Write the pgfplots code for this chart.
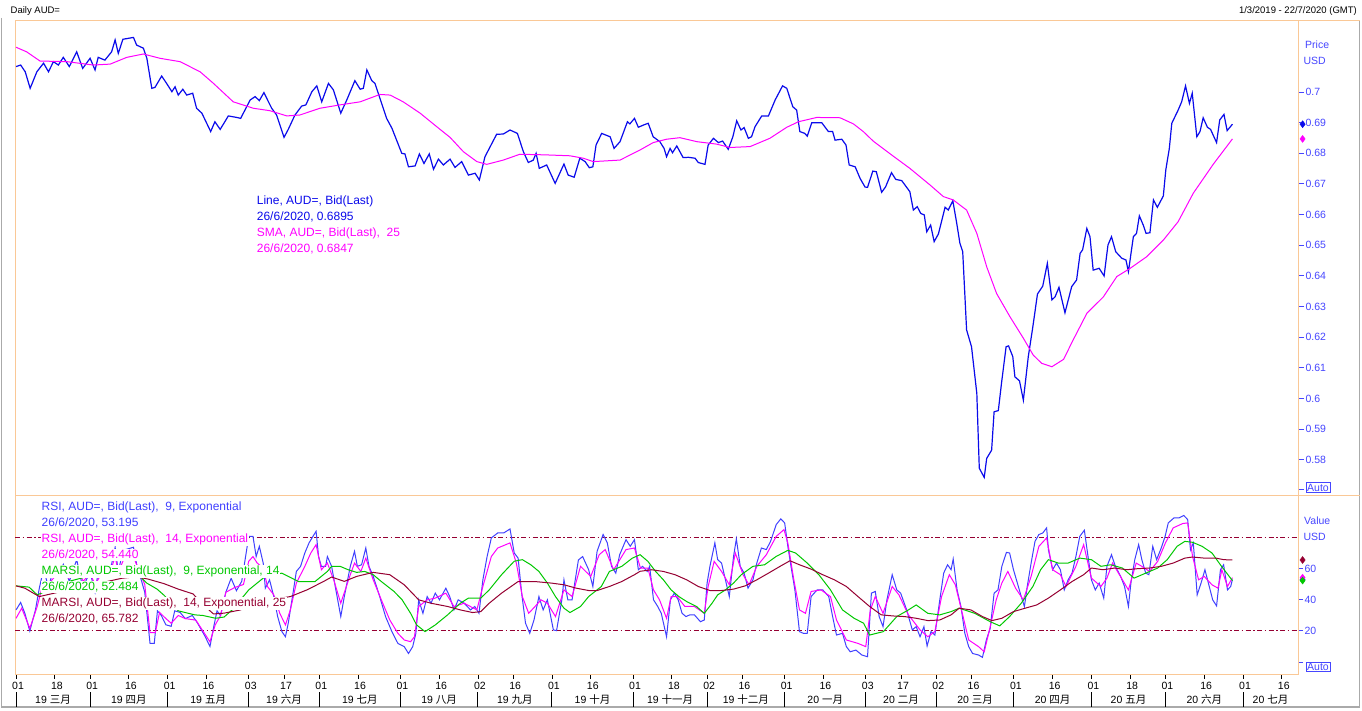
\documentclass[border=0pt]{standalone}
\usepackage{pgfplots}
\pgfplotsset{compat=1.18}
\usepackage{fontspec}
\setmainfont{Liberation Sans}
\newfontfamily\cjk{Noto Sans CJK SC}
\definecolor{peach}{RGB}{250,200,150}
\definecolor{tickblue}{RGB}{70,70,255}
\definecolor{priceblue}{RGB}{10,10,235}
\definecolor{smamag}{RGB}{255,0,255}
\definecolor{rsiblue}{RGB}{64,64,255}
\definecolor{marsigreen}{RGB}{0,200,0}
\definecolor{maroonc}{RGB}{150,0,50}
\definecolor{framegray}{RGB}{170,170,170}
\begin{document}
\begin{tikzpicture}[x=1pt,y=1pt]
\fill[white] (0,0) rectangle (1362,710);
% frame
\draw[framegray,line width=1.5pt] (1.5,692) -- (1.5,3) -- (1359.5,3) -- (1359.5,690);
\begin{axis}[
  at={(15pt,215pt)}, anchor=south west, scale only axis,
  width=1283pt, height=474pt,
  xmin=-0.3, xmax=363.6, ymin=0.56856, ymax=0.72316,
  axis line style={peach, line width=1pt},
  xtick=\empty,
  ytick={0.5705,0.58,0.59,0.6,0.61,0.62,0.63,0.64,0.65,0.66,0.67,0.68,0.69,0.7},
  yticklabels={,0.58,0.59,0.6,0.61,0.62,0.63,0.64,0.65,0.66,0.67,0.68,0.69,0.7},
  ytick pos=right, yticklabel pos=right, tick align=outside, major tick length=6pt,
  y tick style={tickblue, line width=1pt},
  yticklabel style={font=\fontsize{10.5}{12}\selectfont, text=tickblue, xshift=-2pt},
  clip=false,
]
\addplot[priceblue, line width=1.2pt] table {
x y
0 0.7083
1.3 0.7088
2.6 0.7066
4 0.7012
5.9 0.7066
7.8 0.7094
9.2 0.7066
10.6 0.7099
12 0.7088
13.4 0.7113
15.1 0.7083
17.2 0.7131
18.9 0.7077
21 0.7110
22.4 0.7072
23.3 0.7113
25.2 0.7104
27.1 0.7131
28.1 0.7170
29 0.7126
30.3 0.7172
33.3 0.7178
34.2 0.7153
36.1 0.7143
37.1 0.7110
38.5 0.7012
39.4 0.7015
41.3 0.7052
42.7 0.7028
44.2 0.7001
45.1 0.7017
46 0.6990
47.3 0.7009
48.4 0.6990
50.1 0.6996
51.2 0.6947
52.7 0.6931
55.2 0.6871
56.4 0.6903
57.9 0.6878
60.2 0.6922
62.6 0.6917
63.7 0.6914
66.4 0.6974
67.8 0.6985
69 0.6972
70.3 0.6998
72.5 0.6947
73.9 0.6925
76 0.6852
77.2 0.6878
79.1 0.6925
81 0.6954
82.2 0.6958
83.9 0.7001
85.3 0.7020
86.7 0.6968
88.6 0.7028
90 0.7007
92.1 0.6931
93.8 0.6974
96.1 0.7037
97.6 0.7009
98.5 0.7012
99.5 0.7072
100.9 0.7037
101.8 0.7028
105.1 0.6914
106.6 0.6882
109.4 0.6800
110.3 0.6798
111.3 0.6756
113.2 0.6759
114.4 0.6798
115.7 0.6767
117.2 0.6798
118.4 0.6748
119.8 0.6781
121.2 0.6762
123.1 0.6781
124.5 0.6754
126.4 0.6773
128.3 0.6729
130.2 0.6735
131.4 0.6713
133 0.6789
136.3 0.6862
138.2 0.6863
140.1 0.6876
142.2 0.6865
143.9 0.6805
145.3 0.6770
146.7 0.6778
147.5 0.6800
148.4 0.6751
150.5 0.6762
152.9 0.6702
155.4 0.6765
156.6 0.6729
158.3 0.6722
159.9 0.6784
161.4 0.6773
162.6 0.6753
163.6 0.6756
164.5 0.6827
166.1 0.6865
168.5 0.6854
169.6 0.6816
171.3 0.6838
173.4 0.6903
174.1 0.6896
175.4 0.6914
176.5 0.6885
177.9 0.6892
179.3 0.6898
180.7 0.6854
182.6 0.6838
183.8 0.6816
184.5 0.6789
185.5 0.6816
186.2 0.6802
187.4 0.6824
189.2 0.6786
190.7 0.6787
192.6 0.6784
193.5 0.6770
195.4 0.6764
196.3 0.6827
197.8 0.6849
199.2 0.6835
200.4 0.6840
202 0.6813
203.3 0.6854
204.4 0.6906
205.6 0.6876
206.5 0.6884
207.7 0.6849
208.6 0.6854
209.6 0.6887
211.5 0.6922
213.4 0.6922
215.3 0.6974
217.4 0.7020
218.6 0.7012
220.3 0.6952
221.4 0.6941
222.3 0.6871
223.7 0.6865
224.4 0.6856
225.7 0.6900
228.5 0.6900
230.4 0.6871
231.6 0.6871
232.3 0.6843
234.2 0.6846
235.4 0.6827
236.3 0.6762
238 0.6756
239.4 0.6718
240.8 0.6690
241.5 0.6689
243 0.6742
244 0.6740
245.5 0.6673
246.6 0.6690
248.3 0.6737
249.5 0.6715
251.2 0.6711
253.5 0.6675
254.5 0.6615
255.6 0.6626
256.6 0.6604
257.6 0.6599
258.3 0.6544
259.4 0.6566
260.4 0.6512
261.6 0.6537
263.5 0.6624
264.4 0.6615
265.7 0.6645
266.8 0.6572
267.7 0.6507
268.5 0.6479
269.6 0.6224
271 0.6169
272.5 0.6017
273.2 0.5773
274.6 0.5743
275.3 0.5805
276.7 0.5832
277.4 0.5957
278.6 0.5961
279.5 0.6050
280.8 0.6169
281.5 0.6172
282.7 0.6137
283.3 0.6071
284.6 0.6058
285.7 0.5995
287.1 0.6137
288.4 0.6235
289.7 0.6341
291.2 0.6367
292.5 0.6441
293.8 0.6322
294.7 0.6332
295.8 0.6363
297.5 0.6280
299.4 0.6365
300.8 0.6387
301.8 0.6474
302.5 0.6485
303.7 0.6555
304.6 0.6528
305.5 0.6419
307.2 0.6425
308.6 0.6400
309.7 0.6501
310.7 0.6528
311.9 0.6479
313.6 0.6458
314.8 0.6452
315.5 0.6414
316.9 0.6528
317.8 0.6539
318.6 0.6596
319.7 0.6566
320.5 0.6539
321.6 0.6541
322.6 0.6648
323.7 0.6624
325.4 0.6661
326.1 0.6746
327.1 0.6816
327.8 0.6898
329.6 0.6941
330.6 0.6968
331.7 0.7020
332.8 0.6963
333.6 0.6996
334.9 0.6854
335.8 0.6871
336.7 0.6916
337.9 0.6885
338.8 0.6878
340.5 0.6835
341.4 0.6909
342.6 0.6927
343.5 0.6874
345 0.6895
};
\addplot[smamag, line width=1pt] table {
x y
0 0.7146
3 0.7131
6.8 0.7101
14.4 0.7099
21.9 0.7088
26.7 0.7091
31.4 0.7113
36.1 0.7124
40.8 0.7110
46.5 0.7099
52.2 0.7066
56 0.7028
61.6 0.6968
67.3 0.6947
72 0.6939
76.8 0.6922
80.5 0.6925
86.2 0.6947
91.9 0.6958
97.6 0.6968
103.2 0.6992
106.1 0.6990
109.8 0.6968
114.6 0.6931
119.3 0.6887
123.1 0.6852
126.9 0.6805
130.7 0.6773
133.5 0.6764
138.2 0.6778
142.9 0.6797
150 0.6795
157.1 0.6792
160.9 0.6784
163.7 0.6773
171.3 0.6778
177 0.6811
180.7 0.6835
184.5 0.6846
188.3 0.6851
193.1 0.6838
198.7 0.6830
202.5 0.6819
208.2 0.6822
213.8 0.6849
218.6 0.6885
221.9 0.6903
227.1 0.6917
233.7 0.6916
237.5 0.6896
240.3 0.6871
243.1 0.6840
248.3 0.6795
253.5 0.6751
259.2 0.6697
263 0.6659
265.8 0.6648
269.6 0.6615
272.5 0.6539
275.3 0.6430
278.1 0.6343
281.9 0.6267
285.7 0.6197
288.5 0.6142
290.9 0.6115
293.8 0.6104
297.1 0.6128
299.9 0.6193
303.7 0.6278
308.4 0.6332
312.2 0.6398
316 0.6425
320.7 0.6463
325.4 0.6517
329.6 0.6577
333.9 0.6670
339.6 0.6765
345 0.6847
};
\addplot[only marks, mark=diamond*, mark size=3.5pt, smamag] coordinates {(364.9,0.6847)};
\addplot[only marks, mark=diamond*, mark size=3.5pt, priceblue] coordinates {(364.9,0.6895)};
\end{axis}
\begin{axis}[
  at={(15pt,36pt)}, anchor=south west, scale only axis,
  width=1283pt, height=179pt,
  xmin=-0.3, xmax=363.6, ymin=-7.74, ymax=107.7,
  axis line style={peach, line width=1pt},
  xtick={0,11,21,32,43,54,66,76,86,97,109,120,131,141,152,163,175,186,196,206,218,229,241,251,261,271,283,294,305,316,326,337,348,359},
  xticklabels={01,18,01,16,01,16,03,17,01,16,01,16,02,16,01,16,01,18,02,16,01,16,03,17,02,16,01,16,01,18,01,16,01,16},
  xtick pos=bottom,
  ytick={0,20,40,60}, yticklabels={,20,40,60},
  ytick pos=right, yticklabel pos=right, tick align=outside, major tick length=5pt,
  y tick style={tickblue, line width=1pt},
  x tick style={black, line width=0.8pt},
  yticklabel style={font=\fontsize{10.5}{12}\selectfont, text=tickblue, xshift=-2pt},
  xticklabel style={font=\fontsize{10.5}{12}\selectfont, text=black, xshift=2pt},
  clip=false,
]
\addplot[maroonc, line width=1pt, dash pattern=on 5pt off 2.5pt on 1.5pt off 2.5pt] coordinates {(-0.3,80) (363.6,80)};
\addplot[maroonc, line width=1pt, dash pattern=on 5pt off 2.5pt on 1.5pt off 2.5pt] coordinates {(-0.3,20) (363.6,20)};
% RSI 9
\addplot[rsiblue, line width=1pt] table {
x y
0 33.6
1.3 38.4
2.5 31.4
3.9 20
5.5 33.6
6.6 47.6
7.8 60
9.2 48
10.6 60
12 56
13.4 63
15.1 52
17.2 66
18.9 48
21 58
22.4 45
23.3 58
25.2 55
27.1 63
28.1 74
29 58
30.3 72
33.3 74
34.2 63
35.5 53
36.5 45
38 12
39.2 12
40.1 33
41.2 30
42.5 24
44 23
45 33
46.5 32
48 28
50 30
51.5 25
53.5 17
55 10
56 22
57 33
58 30
59.5 45
61 54
62.5 46
64 52
66 81
67.2 81
68.1 68
69 74.6
70.1 63.8
70.7 47.6
71.9 53
73.1 42.2
74.2 29.3
75.4 19.6
76.4 16.3
77.2 25
78.4 42.2
79.5 58.4
80.7 61.7
81.9 70.3
83.1 76.8
84.2 81
85.1 84.3
85.8 68
86.6 61.7
87.8 61.7
88.3 68
89.5 61.7
90.7 46.6
92.1 29.3
93.1 42.2
94.8 61.7
96 71.4
96.8 61.7
98 62.7
99.2 73.5
100.1 61.7
101.3 55.2
103 43.3
104.8 29.3
106.6 19.6
108.3 12
110.1 9.9
111.3 5.5
112.5 9.9
113.4 18.5
114.2 40.1
115.4 31.4
116.6 42.2
117.7 37.9
118.9 44.4
120.1 40.1
121.9 47.6
123 42.2
124.2 33.6
125.4 40.1
127.1 37.9
128.9 33.6
130.1 35.8
131.3 31.4
132.4 53
133.6 68
134.8 80
136.6 83.2
138.3 83.2
140.1 85.8
141.3 70.3
142.4 67
143.4 44.4
144.5 25
145.7 18.5
146.9 27.1
148.3 42.2
149.5 33.6
150.7 40.1
152.4 20.7
153.3 20.2
154.8 40.1
155.4 53
156.5 40.1
157.7 40.1
159.5 65.8
160.7 68
162.4 59.5
163.6 48.7
164.8 71.4
166.5 82.2
167.7 76.8
168.9 61.7
170.1 57.3
171.2 69.2
173 78.9
174.2 74.6
175.4 78.9
176.5 59.5
177.7 61.7
179 58.4
179.7 61.7
180.8 40.1
182 35.8
183 31.4
184.5 16.3
185.6 40.1
186.7 44.4
187.8 40.1
188.9 31.4
190 29.3
191.1 30.4
192.4 30.4
194.1 26
195.2 27.1
196 50.9
196.8 61.7
198.2 76.8
199 66
200.1 63.8
201.2 53
202.3 42.2
203.5 68
204.3 79.4
205.4 61.7
206.5 57.3
207.6 47.6
209 53
210.1 63.8
211.4 73.5
212.8 72.5
214 77.8
215.6 88.6
216.9 92.3
218 89.7
218.9 74.6
219.8 61.7
220.9 46.5
222.2 19.6
223.3 18.5
224.4 18.5
225.5 42.2
227.2 46.5
228.8 46.5
230.5 42.2
231.6 29.3
232.7 17.4
234.4 18.5
235.5 9.9
236.6 6.6
238.2 7.7
239.9 4.5
241.5 3.4
242.6 44.4
243.7 45.5
244.8 29.3
245.9 22.8
247 40.1
248.5 56.3
249.8 46.5
250.9 44.4
252.6 33.6
254.2 20.7
255.3 22.8
256.4 16.3
257.5 22.8
258.4 10.3
259.5 19.6
260.6 17.4
262 40.1
263.1 57.3
264.2 62.7
265.2 59.5
265.8 66.4
266.9 46.5
268 35.8
269.1 18.5
270.2 9.9
271.3 5.5
273 4.5
274.1 3
275.2 14.2
276.3 21.7
277.4 44.4
278.5 46.5
279.6 61.7
280.9 70.7
281.8 70.3
282.9 59.5
284 50.9
285.1 42.2
286 35.8
286.8 48.7
287.9 63.8
289 77.8
290.1 82.2
291.2 83.2
292.3 86.5
292.8 72.4
294 59.5
295.1 63.8
296.2 59.5
297.3 46.5
298.4 53
299.5 57.3
300.6 68
301.7 81
303 85
303.9 70.3
305 53
306.1 46.5
307.2 50.9
308.5 41.2
309.4 61.7
310.7 69.2
311.8 61.7
313.3 55.2
314.4 48.7
315.5 35.8
316.2 50.9
317.3 66
318.4 75.7
319.3 66
320.4 57.3
321.3 56.3
322.4 74.6
323.5 66
324.8 73.5
325.9 81
326.8 89.7
328.4 92.9
329.8 92.9
331.2 94.5
332.3 91.9
333.1 72.4
333.9 76.8
335 43.3
336.1 50.9
337.2 59.5
338.3 49.8
339.4 40.1
340.5 36.2
341.6 59.5
342.5 62.7
343.6 46.5
344.5 48.7
345 53.2
};
% RSI 14
\addplot[smamag, line width=1pt] table {
x y
0 28.2
1.6 34.7
3.9 21.7
6 35.8
7.2 46.5
9 50
11 55
13 58
15 54
17.2 62
19 52
21 57
22.4 50
24 56
27 60
28.1 68
29 58
30.5 66
33.3 68
34.5 61
36.5 50
38 19
39.5 19
40.7 32
42.5 28
44 25
46 30
48 28
51 27
53 20
55 13
56.5 24
58 30
59.5 45
62 48
64.5 50
66 65
67.2 68
68.4 63.8
70.1 60.6
71.3 48.7
73.1 43.3
74.8 31.4
76.4 23.9
77.8 33.6
79.5 50.9
81.9 61.7
83.6 70.3
85.1 75.7
86.6 59.5
88.3 63.8
90.1 53
92.1 37.9
94.8 56.3
96 63.8
97.8 58.4
99.2 67
101.3 53
103.6 40.1
106 27.1
108.3 18.5
110.1 14.2
111.9 13.1
113 16.3
114.2 35.8
116.6 40.1
118.9 41.2
121.9 44.4
124.2 35.8
127.1 37.9
130.7 33.6
132.4 48.7
134.8 68
136.6 73.5
140.1 76.8
141.9 63.8
143.6 42.2
145.4 31.4
147.2 35.8
148.9 40.1
150.7 37.9
153 29.3
155.4 46.5
157.7 42.2
160.1 61.7
163 55.2
165.4 69.2
167.1 72.5
169.5 59.5
173 72.5
175.4 73.5
177.1 60.6
179.2 60.6
180.8 46.5
182.5 40.1
184.5 28.2
185.8 42.2
187.5 42.2
189.7 35.8
192.4 35.8
195.2 31.4
196.3 48.7
198 64.9
200.1 58.4
202.3 49.8
204 70.3
206.2 56.3
207.9 49.8
210.1 61.7
212.8 69.2
215.6 81
217.8 85.4
218.9 76.8
220.6 53
222.2 33.6
223.9 31.4
225.5 45.5
228.3 46.5
231 42.2
232.7 27.1
235.5 14.2
238.8 12
241 9.9
242.3 33.6
243.7 42.2
245.9 31.4
248.5 48.7
250.4 43.3
253.1 30.4
256.4 20.7
258.6 16.3
260.6 19.6
262.5 42.2
264.7 56.3
266.4 49.8
268.6 29.3
270.2 14.2
273 9.9
274.6 6.6
276.3 22.8
278 40.1
279.6 50.9
281.3 58.4
283.5 47.6
285.7 40.1
287.9 55.2
290.1 74.6
292.3 80
294 59.5
296.2 56.3
297.8 48.7
300.6 61.7
302.8 75.7
305 54.1
307.7 48.7
309.4 54.1
311 63.8
313.8 53
315.5 46.5
317.7 63.8
319.3 61.7
321.5 58.4
323.8 64.9
326 76.8
328.2 86.5
330.9 89.3
332.3 89.7
333.7 68
335.4 53
337 55.2
339.2 49.8
340.9 47.6
342 59.5
343.6 48.7
345 54.4
};
% MARSI 9
\addplot[marsigreen, line width=1pt] table {
x y
0 49.1
3.7 48.3
6 43.3
10 47
15 52
20 55
25 56
30 59
34 58
37 51
40 47
42 43
46 33
50.7 30.4
53 30
56.6 28.2
59 29
61.3 33.6
66 46.5
70.7 55.2
75.4 57.3
80.1 51.9
84.8 51.9
88.3 58.4
89.5 61.7
91.9 61.7
94.2 59.5
96.6 57.8
98.9 58.4
101.3 56.3
103.6 51.9
107.2 45.5
109.5 40.1
111.9 31.4
113.6 23.9
116 19.6
118.9 23.9
122.4 30.4
126 37.9
128.3 41.2
131.8 41.2
134.2 46.5
137.7 56.3
141.3 65
143.6 66
146 62.7
148.3 58.4
150.7 50.9
153 42.2
155.4 34.7
157.1 31.9
160.1 35.8
162.4 42.2
166 48.7
168.3 58.4
171.8 61.7
174.8 67
177 69.2
179.2 64.9
181.4 58.4
183.6 53
185.8 46.5
188 42.2
190.2 39
193 35.8
195.2 31.4
197.4 37.9
199 43.3
201.2 46.5
203.5 50.9
205.7 56.3
209 61.7
212.3 62.7
215.6 68.1
218.9 72
221.1 70.3
224.4 63.8
227.7 56.3
231 46.5
234.4 33.6
237.7 28.2
240.4 25
242.1 17.4
246 19.6
249.8 29.3
253.1 33.6
255.3 36.8
258.6 31.4
262 30.4
265.2 32.5
267.5 34.7
271.9 31.4
276.3 26
279 23.3
281.8 29.3
285.1 37.9
288.4 48.7
290.6 59.5
292.8 66
295.6 63.8
298.4 63.8
301.7 67
305 66
307.7 61.7
310.5 62.7
313.8 60.6
317.1 54.1
320.4 57.3
323.8 60.6
326.5 66
329.3 74.6
331.5 77.8
333.7 77.2
336.4 74.6
339.2 70.3
341.9 61.7
345 52.5
};
% MARSI 14
\addplot[maroonc, line width=1pt] table {
x y
0 49.1
2.5 47.6
4.9 44.4
6.6 42.2
12 45
18 48
24 51
30 54
34 55
37.4 53.5
42 50.5
46 47
50.2 43.9
53 37
56 31
59 31.5
63.5 33.5
68 37
72 40
77.8 42.2
82.5 46.5
87.2 51.9
89.5 54.8
93.1 52
96.6 55.2
101.3 57.8
106 56.3
110.1 49.8
114.2 40.1
117.7 37.9
122.4 35.8
126 33.6
129.5 31.9
131.8 32.5
134.2 37.9
137.7 44.4
142.4 51.9
147.1 51.9
151.8 50.9
155.4 49.8
158.9 47.6
162.4 46.1
164.8 46.1
168.3 48.7
171.8 51.9
175.4 56.3
177 58.5
180.3 59.5
183.6 58.4
186.9 56.3
190.2 53
193.5 48.7
196.8 46.1
200.1 46.1
203.5 47
206.8 49.1
210.1 53
213.4 57.3
216.7 61.7
219.5 65.3
222.2 62.7
225.5 59.9
228.8 56.3
232.1 53
235.5 48.7
238.8 42.2
242.1 35.8
245.4 30.4
248.7 29.7
252 29.3
255.3 28.2
258.6 26.7
262 27.1
265.2 30.4
267.5 34.7
270.8 33.6
274.1 29.3
276.8 26.7
279.6 28.2
282.9 32.5
286.2 34.7
289.5 36.8
292.8 41.2
296.2 46.5
299.5 51.9
302.8 56.3
305 60.6
308.3 59.5
311.6 60.6
315 59.5
318.2 60.2
321.5 60.6
324.8 61.7
328.2 63.8
331.5 67
333.7 67.7
337 67
340.3 67
342.5 66
345 65.8
};
\addplot[only marks, mark=diamond*, mark size=3.5pt, rsiblue] coordinates {(364.9,53.2)};
\addplot[only marks, mark=diamond*, mark size=3.5pt, smamag] coordinates {(364.9,54.4)};
\addplot[only marks, mark=diamond*, mark size=3.5pt, marsigreen] coordinates {(364.9,52.5)};
\addplot[only marks, mark=diamond*, mark size=3.5pt, maroonc] coordinates {(364.9,65.8)};
\end{axis}
% month separators (px = 16 + 3.526 i)
\foreach \px in {16.0,90.0,167.6,248.7,319.2,400.3,477.9,551.9,633.1,707.1,784.7,865.8,936.3,1013.9,1091.4,1165.5,1243.0}{
  \draw[black,line width=1pt] (\px,3.5) -- (\px,18);
}
% month labels
\begin{scope}[font=\fontsize{10.5}{12}\selectfont]
\node[anchor=base] at (53.0,7) {19 {\cjk 三月}};
\node[anchor=base] at (128.8,7) {19 {\cjk 四月}};
\node[anchor=base] at (208.2,7) {19 {\cjk 五月}};
\node[anchor=base] at (284.0,7) {19 {\cjk 六月}};
\node[anchor=base] at (359.8,7) {19 {\cjk 七月}};
\node[anchor=base] at (439.1,7) {19 {\cjk 八月}};
\node[anchor=base] at (514.9,7) {19 {\cjk 九月}};
\node[anchor=base] at (592.5,7) {19 {\cjk 十月}};
\node[anchor=base] at (670.1,7) {19 {\cjk 十一月}};
\node[anchor=base] at (745.9,7) {19 {\cjk 十二月}};
\node[anchor=base] at (825.2,7) {20 {\cjk 一月}};
\node[anchor=base] at (901.0,7) {20 {\cjk 二月}};
\node[anchor=base] at (975.1,7) {20 {\cjk 三月}};
\node[anchor=base] at (1052.6,7) {20 {\cjk 四月}};
\node[anchor=base] at (1128.5,7) {20 {\cjk 五月}};
\node[anchor=base] at (1204.3,7) {20 {\cjk 六月}};
\node[anchor=base] at (1270.5,7) {20 {\cjk 七月}};
\end{scope}
% peach extensions to the right
\draw[peach,line width=1pt] (1298,689) -- (1360,689);
\draw[peach,line width=1pt] (1298,215) -- (1360,215);
% header texts
\node[anchor=base west, inner sep=0pt, font=\fontsize{9.5}{11}\selectfont] at (10.5,696) {Daily AUD=};
\node[anchor=base east, inner sep=0pt, font=\fontsize{9.5}{11}\selectfont] at (1357,696) {1/3/2019 - 22/7/2020 (GMT)};
% axis titles right
\begin{scope}[font=\fontsize{10.5}{12}\selectfont, text=tickblue]
\node[anchor=base west, inner sep=0pt] at (1305,661) {Price};
\node[anchor=base west, inner sep=0pt] at (1303.3,645) {USD};
\node[anchor=base west, inner sep=0pt] at (1304,185.7) {Value};
\node[anchor=base west, inner sep=0pt] at (1303.3,170) {USD};
\node[draw=tickblue, line width=1pt, anchor=west, inner sep=1.2pt] at (1305.5,222.3) {Auto};
\node[draw=tickblue, line width=1pt, anchor=west, inner sep=1.2pt] at (1305.5,43) {Auto};
\end{scope}
% legends top panel
\begin{scope}[font=\fontsize{12}{14}\selectfont]
\node[anchor=base west, inner sep=0pt, text=priceblue] at (256.7,505) {Line, AUD=, Bid(Last)};
\node[anchor=base west, inner sep=0pt, text=priceblue] at (256.7,489) {26/6/2020, 0.6895};
\node[anchor=base west, inner sep=0pt, text=smamag] at (256.7,473) {SMA, AUD=, Bid(Last),\ \ 25};
\node[anchor=base west, inner sep=0pt, text=smamag] at (256.7,457.5) {26/6/2020, 0.6847};
% legends bottom panel
\node[anchor=base west, inner sep=1pt, fill=white, text=rsiblue] at (40.5,199.3) {RSI, AUD=, Bid(Last),\ \ 9, Exponential};
\node[anchor=base west, inner sep=1pt, fill=white, text=rsiblue] at (40.5,183.3) {26/6/2020, 53.195};
\node[anchor=base west, inner sep=1pt, fill=white, text=smamag] at (40.5,167.3) {RSI, AUD=, Bid(Last),\ \ 14, Exponential};
\node[anchor=base west, inner sep=1pt, fill=white, text=smamag] at (40.5,151.3) {26/6/2020, 54.440};
\node[anchor=base west, inner sep=1pt, fill=white, text=marsigreen] at (40.5,135.3) {MARSI, AUD=, Bid(Last),\ \ 9, Exponential, 14};
\node[anchor=base west, inner sep=1pt, fill=white, text=marsigreen] at (40.5,119.3) {26/6/2020, 52.484};
\node[anchor=base west, inner sep=1pt, fill=white, text=maroonc] at (40.5,103.3) {MARSI, AUD=, Bid(Last),\ \ 14, Exponential, 25};
\node[anchor=base west, inner sep=1pt, fill=white, text=maroonc] at (40.5,87.5) {26/6/2020, 65.782};
\end{scope}
\pgfresetboundingbox
\useasboundingbox (0,0) rectangle (1362,710);
\end{tikzpicture}
\end{document}
